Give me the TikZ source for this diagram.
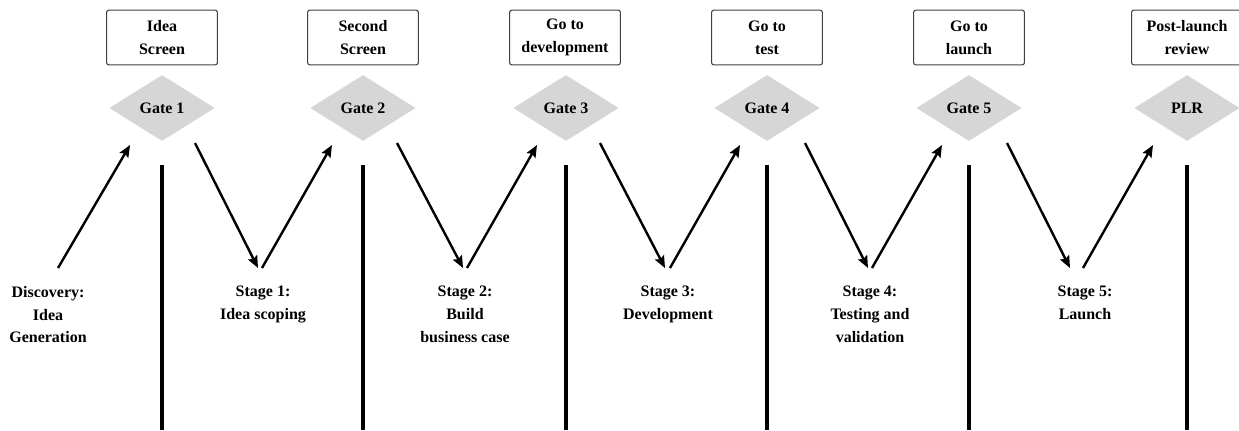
\documentclass[tikz,border=0pt]{standalone}
\usepackage{fontspec}
\setmainfont{Liberation Serif}
\usetikzlibrary{shapes.geometric,arrows.meta}
\begin{document}
\begin{tikzpicture}[x=0.75pt,y=-0.75pt,
  lbl/.style={font=\fontsize{12}{17}\selectfont\bfseries, align=center},
  gatebox/.style={lbl, draw=black!75, line width=0.8pt, rounded corners=1.5pt, minimum width=83pt, minimum height=41pt, inner sep=0pt},
  gate/.style={lbl, diamond, fill=black!16, minimum width=79pt, minimum height=49.5pt, inner sep=0pt},
  stagelbl/.style={lbl, anchor=north, inner sep=0pt},
  flow/.style={line width=1.8pt, -{Stealth[length=9pt,width=7.5pt,inset=1.5pt]}},
  divider/.style={line width=3pt}]
\useasboundingbox (0,0) rectangle (1239,430);
% boxes
\node[gatebox] (b1) at (162,37.5) {Idea\\Screen};
\node[gatebox] (b2) at (363,37.5) {Second\\Screen};
\node[gatebox] (b3) at (565,37.5) {Go to\\development};
\node[gatebox] (b4) at (767,37.5) {Go to\\test};
\node[gatebox] (b5) at (969,37.5) {Go to\\launch};
\node[gatebox] (b6) at (1187,37.5) {Post-launch\\review};
% gates
\node[gate] (g1) at (162,108) {Gate 1};
\node[gate] (g2) at (363,108) {Gate 2};
\node[gate] (g3) at (566,108) {Gate 3};
\node[gate] (g4) at (767,108) {Gate 4};
\node[gate] (g5) at (969,108) {Gate 5};
\node[gate] (g6) at (1187,108) {PLR};
% stage labels
\node[stagelbl] (s0) at (48,286) {Discovery:\\Idea\\Generation};
\node[stagelbl] (s1) at (263,286) {Stage 1:\\Idea scoping};
\node[stagelbl] (s2) at (465,286) {Stage 2:\\Build\\business case};
\node[stagelbl] (s3) at (668,286) {Stage 3:\\Development};
\node[stagelbl] (s4) at (870,286) {Stage 4:\\Testing and\\validation};
\node[stagelbl] (s5) at (1085,286) {Stage 5:\\Launch};
% divider lines
\foreach \g in {g1,g2,g3,g4,g5,g6}{
  \coordinate (\g top) at ([yshift=-57*0.75pt]\g.center);
  \coordinate (\g bot) at (\g top |- 0,430);
  \draw[divider] (\g top) -- (\g bot);
}
% connectors
\draw[flow] ([shift={(10,-18)}]s0.north) -- ([shift={(-32,37)}]g1.center);
\draw[flow] ([shift={(33,35)}]g1.center) -- ([shift={(-5,-18)}]s1.north);
\draw[flow] ([shift={(-1,-18)}]s1.north) -- ([shift={(-31,37)}]g2.center);
\draw[flow] ([shift={(34,35)}]g2.center) -- ([shift={(-2,-18)}]s2.north);
\draw[flow] ([shift={(2,-18)}]s2.north) -- ([shift={(-29,37)}]g3.center);
\draw[flow] ([shift={(34,35)}]g3.center) -- ([shift={(-3,-18)}]s3.north);
\draw[flow] ([shift={(2,-18)}]s3.north) -- ([shift={(-27,37)}]g4.center);
\draw[flow] ([shift={(38,35)}]g4.center) -- ([shift={(-2,-18)}]s4.north);
\draw[flow] ([shift={(2,-18)}]s4.north) -- ([shift={(-27,37)}]g5.center);
\draw[flow] ([shift={(38,35)}]g5.center) -- ([shift={(-15,-18)}]s5.north);
\draw[flow] ([shift={(-2,-18)}]s5.north) -- ([shift={(-34,37)}]g6.center);
\end{tikzpicture}
\end{document}
